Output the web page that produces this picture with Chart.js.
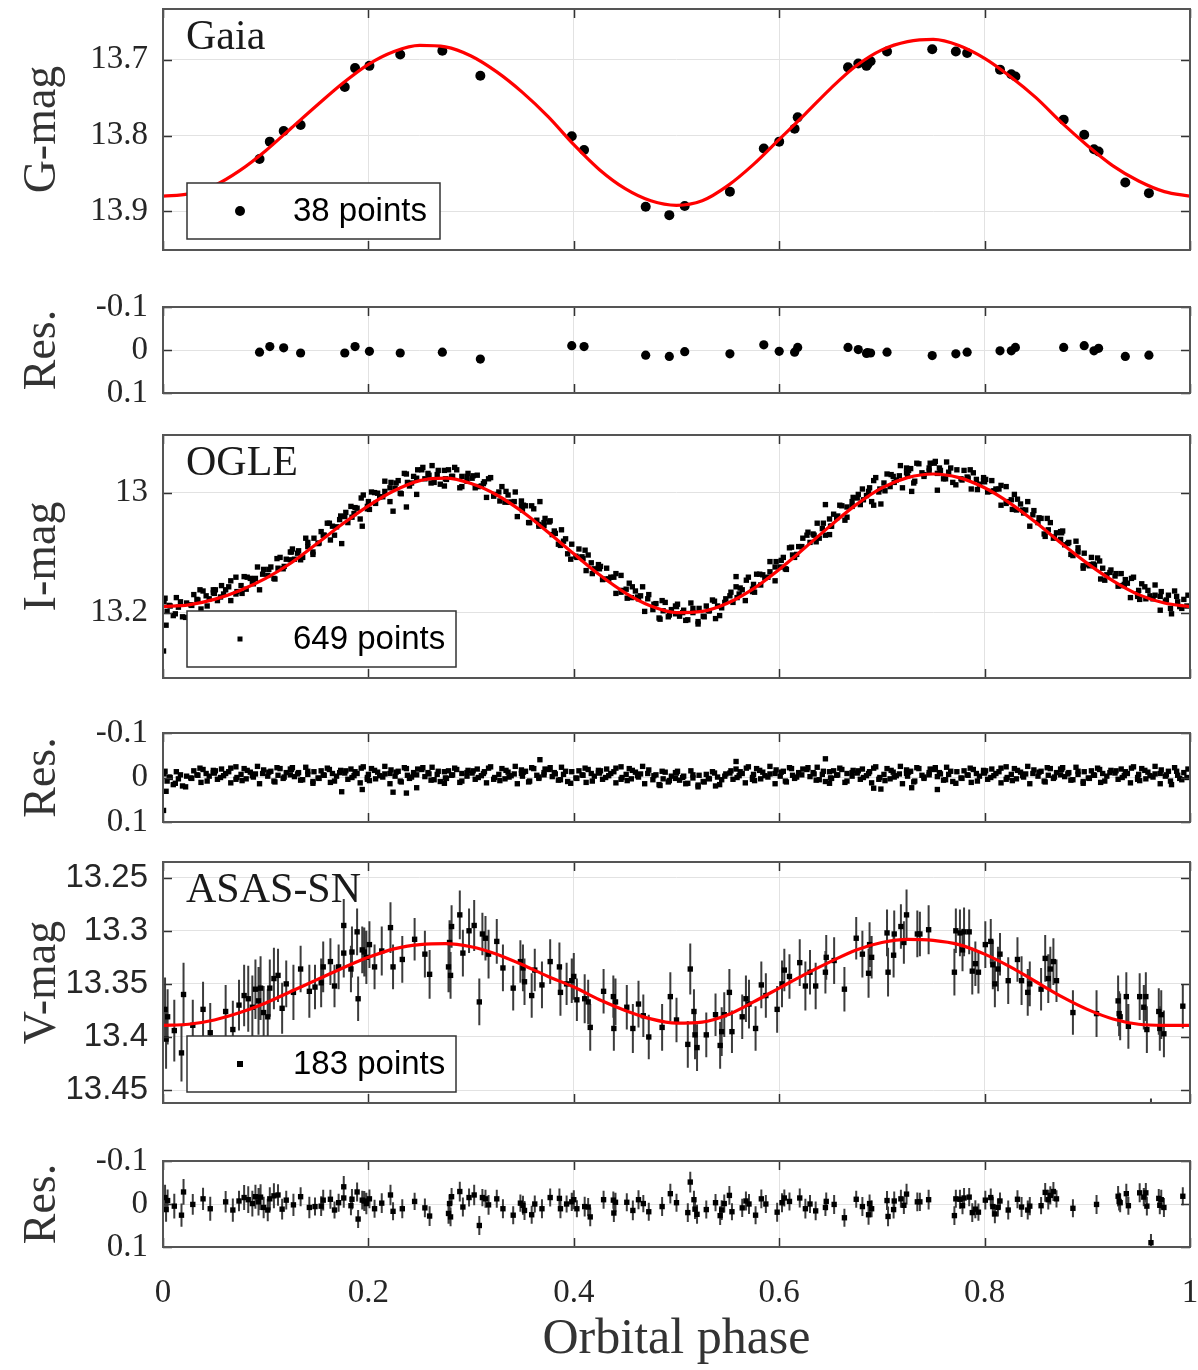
<!DOCTYPE html>
<html>
<head>
<meta charset="utf-8">
<title>Orbital phase light curves</title>
<script src="https://cdn.jsdelivr.net/npm/chart.js@4.4.1/dist/chart.umd.min.js"></script>
<style>
  body { margin: 0; background: #fff; }
  #wrap { position: relative; width: 1198px; height: 1370px; overflow: hidden; }
  #wrap canvas { position: absolute; left: 0; }
</style>
</head>
<body>
<div id="wrap"></div>
<script>
// ---- ticks ----
var phaseTicks = [0, 0.2, 0.4, 0.6, 0.8, 1];
var phaseTickLabels = ['0', '0.2', '0.4', '0.6', '0.8', '1'];
var gaiaTicks = [13.7, 13.8, 13.9];
var gaiaTickLabels = ['13.7', '13.8', '13.9'];
var ogleTicks = [13, 13.2];
var ogleTickLabels = ['13', '13.2'];
var asasTicks = [13.25, 13.3, 13.35, 13.4, 13.45];
var asasTickLabels = ['13.25', '13.3', '13.35', '13.4', '13.45'];
var resTicks = [-0.1, 0, 0.1];
var resTickLabels = ['-0.1', '0', '0.1'];

// ---- model curves ----
var curvePhase = [0, 0.025, 0.05, 0.075, 0.1, 0.125, 0.15, 0.175, 0.2, 0.225, 0.25, 0.275, 0.3, 0.325, 0.35, 0.375, 0.4, 0.425, 0.45, 0.475,
  0.5, 0.525, 0.55, 0.575, 0.6, 0.625, 0.65, 0.675, 0.7, 0.725, 0.75, 0.775, 0.8, 0.825, 0.85, 0.875, 0.9, 0.925, 0.95, 0.975, 1];
var gaiaCurve = [13.880, 13.877, 13.866, 13.846, 13.820, 13.790, 13.760, 13.731, 13.706, 13.689, 13.681, 13.683, 13.695, 13.716, 13.743, 13.775, 13.812, 13.845, 13.870, 13.886,
  13.892, 13.886, 13.866, 13.838, 13.805, 13.772, 13.738, 13.708, 13.687, 13.676, 13.673, 13.681, 13.698, 13.722, 13.750, 13.783, 13.813, 13.840, 13.860, 13.874, 13.880];
var ogleCurve = [13.190, 13.187, 13.178, 13.163, 13.143, 13.117, 13.085, 13.052, 13.022, 12.997, 12.980, 12.976, 12.985, 13.004, 13.032, 13.066, 13.102, 13.137, 13.167, 13.189,
  13.200, 13.198, 13.184, 13.160, 13.128, 13.092, 13.055, 13.020, 12.992, 12.975, 12.969, 12.975, 12.992, 13.018, 13.050, 13.085, 13.118, 13.147, 13.170, 13.184, 13.190];
var asasCurve = [13.389, 13.388, 13.384, 13.377, 13.368, 13.357, 13.346, 13.335, 13.325, 13.317, 13.313, 13.312, 13.315, 13.322, 13.332, 13.343, 13.353, 13.365, 13.375, 13.383,
  13.387, 13.386, 13.379, 13.367, 13.354, 13.341, 13.329, 13.318, 13.311, 13.308, 13.309, 13.313, 13.322, 13.334, 13.348, 13.362, 13.374, 13.383, 13.388, 13.389, 13.389];

// ---- Gaia ----
var gaiaPhase = [0.094, 0.104, 0.1175, 0.134, 0.177, 0.187, 0.201, 0.231, 0.272, 0.309, 0.398, 0.410, 0.470, 0.493, 0.508, 0.552, 0.585, 0.600, 0.615,
  0.618, 0.667, 0.677, 0.685, 0.686, 0.689, 0.705, 0.749, 0.772, 0.783, 0.815, 0.826, 0.830, 0.877, 0.897, 0.9065, 0.911, 0.937, 0.960];
var gaiaMag = [13.831, 13.808, 13.794, 13.786, 13.736, 13.711, 13.708, 13.693, 13.688, 13.721, 13.801, 13.819, 13.894, 13.905, 13.893, 13.874, 13.817, 13.808, 13.791,
  13.776, 13.710, 13.705, 13.708, 13.706, 13.702, 13.689, 13.686, 13.689, 13.691, 13.713, 13.719, 13.722, 13.779, 13.799, 13.818, 13.821, 13.862, 13.876];
var gaiaRes = [0.005, -0.008, -0.005, 0.007, 0.007, -0.008, 0.003, 0.007, 0.005, 0.021, -0.010, -0.008, 0.012, 0.015, 0.004, 0.009, -0.012, 0.003, 0.005,
  -0.006, -0.006, -0.001, 0.008, 0.006, 0.007, 0.005, 0.013, 0.009, 0.005, 0.002, 0.002, -0.006, -0.006, -0.010, 0.002, -0.004, 0.015, 0.012];

// ---- OGLE ----
var oglePhase = [
  0.001, 0.004, 0.006, 0.010, 0.013, 0.015, 0.019, 0.023, 0.027, 0.030, 0.033, 0.036, 0.037, 0.042, 0.045, 0.049,
  0.050, 0.053, 0.057, 0.059, 0.064, 0.066, 0.071, 0.072, 0.076, 0.079, 0.081, 0.085, 0.088, 0.090, 0.094, 0.098,
  0.102, 0.105, 0.108, 0.111, 0.112, 0.117, 0.120, 0.124, 0.125, 0.128, 0.132, 0.134, 0.139, 0.141, 0.146, 0.147,
  0.151, 0.154, 0.156, 0.160, 0.163, 0.165, 0.169, 0.173, 0.177, 0.180, 0.183, 0.186, 0.187, 0.192, 0.195, 0.199,
  0.200, 0.203, 0.207, 0.209, 0.214, 0.216, 0.221, 0.222, 0.226, 0.229, 0.231, 0.235, 0.238, 0.240, 0.244, 0.248,
  0.252, 0.255, 0.258, 0.261, 0.262, 0.267, 0.270, 0.274, 0.275, 0.278, 0.282, 0.284, 0.289, 0.291, 0.296, 0.297,
  0.301, 0.304, 0.306, 0.310, 0.313, 0.315, 0.319, 0.323, 0.327, 0.330, 0.333, 0.336, 0.337, 0.342, 0.345, 0.349,
  0.350, 0.353, 0.357, 0.359, 0.364, 0.366, 0.371, 0.372, 0.376, 0.379, 0.381, 0.385, 0.388, 0.390, 0.394, 0.398,
  0.402, 0.405, 0.408, 0.411, 0.412, 0.417, 0.420, 0.424, 0.425, 0.428, 0.432, 0.434, 0.439, 0.441, 0.446, 0.447,
  0.451, 0.454, 0.456, 0.460, 0.463, 0.465, 0.469, 0.473, 0.477, 0.480, 0.483, 0.486, 0.487, 0.492, 0.495, 0.499,
  0.500, 0.503, 0.507, 0.509, 0.514, 0.516, 0.521, 0.522, 0.526, 0.529, 0.531, 0.535, 0.538, 0.540, 0.544, 0.548,
  0.552, 0.555, 0.558, 0.561, 0.562, 0.567, 0.570, 0.574, 0.575, 0.578, 0.582, 0.584, 0.589, 0.591, 0.596, 0.597,
  0.601, 0.604, 0.606, 0.610, 0.613, 0.615, 0.619, 0.623, 0.627, 0.630, 0.633, 0.636, 0.637, 0.642, 0.645, 0.649,
  0.650, 0.653, 0.657, 0.659, 0.664, 0.666, 0.671, 0.672, 0.676, 0.679, 0.681, 0.685, 0.688, 0.690, 0.694, 0.698,
  0.702, 0.705, 0.708, 0.711, 0.712, 0.717, 0.720, 0.724, 0.725, 0.728, 0.732, 0.734, 0.739, 0.741, 0.746, 0.747,
  0.751, 0.754, 0.756, 0.760, 0.763, 0.765, 0.769, 0.773, 0.777, 0.780, 0.783, 0.786, 0.787, 0.792, 0.795, 0.799,
  0.800, 0.803, 0.807, 0.809, 0.814, 0.816, 0.821, 0.822, 0.826, 0.829, 0.831, 0.835, 0.838, 0.840, 0.844, 0.848,
  0.852, 0.855, 0.858, 0.861, 0.862, 0.867, 0.870, 0.874, 0.875, 0.878, 0.882, 0.884, 0.889, 0.891, 0.896, 0.897,
  0.901, 0.904, 0.906, 0.910, 0.913, 0.915, 0.919, 0.923, 0.927, 0.930, 0.933, 0.936, 0.937, 0.942, 0.945, 0.949,
  0.950, 0.953, 0.957, 0.959, 0.964, 0.966, 0.971, 0.972, 0.976, 0.979, 0.981, 0.985, 0.988, 0.990, 0.994, 0.998,
  0.0005, 0.003, 0.174, 0.194, 0.224, 0.237, 0.247, 0.367, 0.558, 0.645, 0.692, 0.699, 0.729, 0.754,
  0.002, 0.007, 0.012, 0.017, 0.022, 0.028, 0.034, 0.039, 0.043, 0.049, 0.051, 0.056, 0.061, 0.066, 0.071, 0.077, 0.082, 0.087, 0.092, 0.097,
  0.103, 0.109, 0.114, 0.118, 0.124, 0.126, 0.131, 0.136, 0.141, 0.146, 0.152, 0.157, 0.162, 0.167, 0.172, 0.178, 0.184, 0.189, 0.193, 0.199,
  0.201, 0.206, 0.211, 0.216, 0.221, 0.227, 0.232, 0.237, 0.242, 0.247, 0.253, 0.259, 0.264, 0.268, 0.274, 0.276, 0.281, 0.286, 0.291, 0.296,
  0.302, 0.307, 0.312, 0.317, 0.322, 0.328, 0.334, 0.339, 0.343, 0.349, 0.351, 0.356, 0.361, 0.366, 0.371, 0.377, 0.382, 0.387, 0.392, 0.397,
  0.403, 0.409, 0.414, 0.418, 0.424, 0.426, 0.431, 0.436, 0.441, 0.446, 0.452, 0.457, 0.462, 0.467, 0.472, 0.478, 0.484, 0.489, 0.493, 0.499,
  0.501, 0.506, 0.511, 0.516, 0.521, 0.527, 0.532, 0.537, 0.542, 0.547, 0.553, 0.559, 0.564, 0.568, 0.574, 0.576, 0.581, 0.586, 0.591, 0.596,
  0.602, 0.607, 0.612, 0.617, 0.622, 0.628, 0.634, 0.639, 0.643, 0.649, 0.651, 0.656, 0.661, 0.666, 0.671, 0.677, 0.682, 0.687, 0.692, 0.697,
  0.703, 0.709, 0.714, 0.718, 0.724, 0.726, 0.731, 0.736, 0.741, 0.746, 0.752, 0.757, 0.762, 0.767, 0.772, 0.778, 0.784, 0.789, 0.793, 0.799,
  0.801, 0.806, 0.811, 0.816, 0.821, 0.827, 0.832, 0.837, 0.842, 0.847, 0.853, 0.859, 0.864, 0.868, 0.874, 0.876, 0.881, 0.886, 0.891, 0.896,
  0.902, 0.907, 0.912, 0.917, 0.922, 0.928, 0.934, 0.939, 0.943, 0.949, 0.951, 0.956, 0.961, 0.966, 0.971, 0.977, 0.982, 0.987, 0.992, 0.997];
var ogleMag = [
  13.182, 13.198, 13.188, 13.205, 13.175, 13.191, 13.207, 13.184, 13.187, 13.170, 13.178, 13.162, 13.194, 13.172, 13.177, 13.162,
  13.168, 13.180, 13.155, 13.169, 13.157, 13.180, 13.141, 13.165, 13.155, 13.140, 13.161, 13.143, 13.152, 13.143, 13.162, 13.128,
  13.138, 13.124, 13.143, 13.110, 13.126, 13.127, 13.111, 13.099, 13.099, 13.111, 13.097, 13.112, 13.076, 13.090, 13.099, 13.076,
  13.085, 13.065, 13.071, 13.051, 13.079, 13.056, 13.057, 13.039, 13.040, 13.050, 13.023, 13.035, 13.025, 13.044, 13.004, 13.023,
  13.015, 12.999, 13.018, 13.001, 13.007, 12.998, 13.015, 12.983, 12.993, 12.980, 13.001, 12.968, 12.983, 12.989, 12.973, 12.962,
  12.962, 12.977, 12.968, 12.984, 12.955, 12.970, 12.986, 12.963, 12.977, 12.962, 12.973, 12.958, 12.992, 12.973, 12.981, 12.968,
  12.976, 12.992, 12.971, 12.989, 12.982, 13.008, 12.975, 13.003, 12.999, 12.990, 13.016, 13.004, 13.016, 13.015, 13.040, 13.014,
  13.029, 13.022, 13.050, 13.022, 13.046, 13.056, 13.050, 13.043, 13.049, 13.070, 13.064, 13.086, 13.062, 13.081, 13.102, 13.086,
  13.106, 13.094, 13.107, 13.096, 13.130, 13.117, 13.127, 13.120, 13.127, 13.145, 13.126, 13.144, 13.141, 13.168, 13.138, 13.163,
  13.161, 13.151, 13.175, 13.164, 13.177, 13.172, 13.198, 13.170, 13.195, 13.185, 13.209, 13.180, 13.197, 13.207, 13.195, 13.189,
  13.190, 13.206, 13.196, 13.213, 13.184, 13.200, 13.215, 13.193, 13.206, 13.189, 13.197, 13.179, 13.210, 13.189, 13.192, 13.177,
  13.172, 13.183, 13.157, 13.169, 13.159, 13.180, 13.141, 13.161, 13.153, 13.136, 13.154, 13.137, 13.141, 13.132, 13.147, 13.115,
  13.124, 13.108, 13.127, 13.092, 13.104, 13.108, 13.090, 13.076, 13.071, 13.083, 13.069, 13.082, 13.051, 13.060, 13.071, 13.044,
  13.056, 13.036, 13.039, 13.021, 13.046, 13.024, 13.023, 13.008, 13.009, 13.020, 12.994, 13.005, 12.992, 13.015, 12.975, 12.994,
  12.984, 12.969, 12.990, 12.973, 12.983, 12.972, 12.992, 12.959, 12.972, 12.960, 12.981, 12.951, 12.967, 12.973, 12.959, 12.951,
  12.951, 12.968, 12.959, 12.977, 12.949, 12.966, 12.983, 12.962, 12.977, 12.963, 12.974, 12.962, 12.994, 12.978, 12.986, 12.975,
  12.982, 12.999, 12.980, 12.997, 12.994, 13.021, 12.990, 13.015, 13.012, 13.003, 13.029, 13.019, 13.034, 13.029, 13.056, 13.030,
  13.050, 13.043, 13.069, 13.043, 13.062, 13.076, 13.067, 13.065, 13.067, 13.087, 13.083, 13.103, 13.081, 13.099, 13.122, 13.101,
  13.120, 13.108, 13.119, 13.109, 13.144, 13.126, 13.137, 13.129, 13.139, 13.156, 13.135, 13.153, 13.145, 13.175, 13.141, 13.169,
  13.163, 13.152, 13.177, 13.163, 13.177, 13.171, 13.196, 13.165, 13.181, 13.171, 13.193, 13.164, 13.182, 13.190, 13.178, 13.171,
  13.264, 13.221, 13.085, 13.056, 13.031, 13.024, 13.003, 13.015, 13.140, 13.020, 13.021, 13.019, 12.998, 12.996,
  13.176, 13.189, 13.202, 13.182, 13.208, 13.188, 13.179, 13.164, 13.189, 13.167, 13.162, 13.174, 13.162, 13.147, 13.169, 13.168, 13.141, 13.149, 13.124, 13.136,
  13.128, 13.144, 13.108, 13.123, 13.112, 13.094, 13.101, 13.108, 13.083, 13.103, 13.084, 13.071, 13.051, 13.071, 13.045, 13.033, 13.041, 13.026, 13.009, 13.027,
  13.028, 13.000, 13.007, 12.981, 12.992, 12.984, 13.002, 12.969, 12.984, 12.976, 12.958, 12.971, 12.983, 12.963, 12.989, 12.978, 12.973, 12.962, 12.990, 12.973,
  12.972, 12.990, 12.985, 12.977, 13.006, 13.014, 12.998, 13.016, 12.999, 13.022, 13.021, 13.050, 13.027, 13.053, 13.055, 13.047, 13.068, 13.088, 13.077, 13.111,
  13.108, 13.110, 13.104, 13.135, 13.125, 13.123, 13.144, 13.141, 13.135, 13.166, 13.176, 13.157, 13.174, 13.157, 13.177, 13.186, 13.211, 13.183, 13.204, 13.202,
  13.186, 13.200, 13.212, 13.193, 13.219, 13.207, 13.197, 13.181, 13.205, 13.183, 13.166, 13.175, 13.162, 13.146, 13.165, 13.166, 13.136, 13.142, 13.115, 13.124,
  13.113, 13.128, 13.091, 13.103, 13.090, 13.066, 13.071, 13.076, 13.051, 13.070, 13.056, 13.042, 13.022, 13.041, 13.015, 13.003, 13.012, 12.998, 12.980, 12.999,
  12.997, 12.970, 12.979, 12.955, 12.967, 12.963, 12.984, 12.952, 12.970, 12.964, 12.948, 12.963, 12.977, 12.959, 12.987, 12.979, 12.976, 12.967, 12.995, 12.980,
  12.978, 12.998, 12.994, 12.988, 13.018, 13.028, 13.011, 13.029, 13.015, 13.037, 13.042, 13.073, 13.050, 13.074, 13.078, 13.064, 13.085, 13.105, 13.092, 13.126,
  13.122, 13.121, 13.114, 13.146, 13.133, 13.135, 13.155, 13.151, 13.143, 13.173, 13.178, 13.157, 13.172, 13.154, 13.173, 13.179, 13.202, 13.173, 13.193, 13.189];
var ogleRes = [
  -0.008, 0.008, -0.001, 0.016, -0.013, 0.003, 0.019, -0.003, 0.001, -0.015, -0.006, -0.021, 0.011, -0.009, -0.003, -0.016,
  -0.010, 0.004, -0.019, -0.004, -0.013, 0.012, -0.024, 0.000, -0.007, -0.020, 0.003, -0.012, -0.001, -0.008, 0.014, -0.017,
  -0.003, -0.014, 0.008, -0.022, -0.005, 0.002, -0.011, -0.019, -0.018, -0.002, -0.011, 0.006, -0.023, -0.007, 0.009, -0.013,
  0.001, -0.015, -0.006, -0.021, 0.011, -0.009, -0.003, -0.016, -0.010, 0.004, -0.019, -0.004, -0.013, 0.012, -0.024, 0.000,
  -0.007, -0.020, 0.003, -0.012, -0.001, -0.008, 0.014, -0.017, -0.003, -0.014, 0.008, -0.022, -0.005, 0.002, -0.011, -0.019,
  -0.018, -0.002, -0.011, 0.006, -0.023, -0.007, 0.009, -0.013, 0.001, -0.015, -0.006, -0.021, 0.011, -0.009, -0.003, -0.016,
  -0.010, 0.004, -0.019, -0.004, -0.013, 0.012, -0.024, 0.000, -0.007, -0.020, 0.003, -0.012, -0.001, -0.008, 0.014, -0.017,
  -0.003, -0.014, 0.008, -0.022, -0.005, 0.002, -0.011, -0.019, -0.018, -0.002, -0.011, 0.006, -0.023, -0.007, 0.009, -0.013,
  0.001, -0.015, -0.006, -0.021, 0.011, -0.009, -0.003, -0.016, -0.010, 0.004, -0.019, -0.004, -0.013, 0.012, -0.024, 0.000,
  -0.007, -0.020, 0.003, -0.012, -0.001, -0.008, 0.014, -0.017, 0.005, -0.006, 0.016, -0.014, 0.003, 0.010, -0.003, -0.011,
  -0.010, 0.006, -0.003, 0.014, -0.015, 0.001, 0.017, -0.005, 0.009, -0.007, 0.002, -0.013, 0.019, -0.001, 0.005, -0.008,
  -0.010, 0.004, -0.019, -0.004, -0.013, 0.012, -0.024, 0.000, -0.007, -0.020, 0.003, -0.012, -0.001, -0.008, 0.014, -0.017,
  -0.003, -0.014, 0.008, -0.022, -0.005, 0.002, -0.011, -0.019, -0.018, -0.002, -0.011, 0.006, -0.023, -0.007, 0.009, -0.013,
  0.001, -0.015, -0.006, -0.021, 0.011, -0.009, -0.003, -0.016, -0.010, 0.004, -0.019, -0.004, -0.013, 0.012, -0.024, 0.000,
  -0.007, -0.020, 0.003, -0.012, -0.001, -0.008, 0.014, -0.017, -0.003, -0.014, 0.008, -0.022, -0.005, 0.002, -0.011, -0.019,
  -0.018, -0.002, -0.011, 0.006, -0.023, -0.007, 0.009, -0.013, 0.001, -0.015, -0.006, -0.021, 0.011, -0.009, -0.003, -0.016,
  -0.010, 0.004, -0.019, -0.004, -0.013, 0.012, -0.024, 0.000, -0.007, -0.020, 0.003, -0.012, -0.001, -0.008, 0.014, -0.017,
  -0.003, -0.014, 0.008, -0.022, -0.005, 0.002, -0.011, -0.019, -0.018, -0.002, -0.011, 0.006, -0.023, -0.007, 0.009, -0.013,
  0.001, -0.015, -0.006, -0.021, 0.011, -0.009, -0.003, -0.016, -0.010, 0.004, -0.019, -0.004, -0.013, 0.012, -0.024, 0.000,
  -0.007, -0.020, 0.003, -0.012, -0.001, -0.008, 0.014, -0.017, -0.003, -0.014, 0.008, -0.022, -0.005, 0.002, -0.011, -0.019,
  0.074, 0.031, 0.032, 0.027, 0.033, 0.035, 0.023, -0.040, -0.036, -0.042, 0.024, 0.026, 0.023, 0.027,
  -0.014, 0.000, 0.013, -0.006, 0.021, 0.002, -0.005, -0.018, 0.008, -0.011, -0.015, 0.000, -0.009, -0.021, 0.004, 0.007, -0.016, -0.004, -0.025, -0.009,
  -0.012, 0.010, -0.020, -0.001, -0.006, -0.022, -0.008, 0.005, -0.014, 0.013, 0.002, -0.005, -0.018, 0.008, -0.011, -0.015, 0.000, -0.009, -0.021, 0.004,
  0.007, -0.016, -0.004, -0.025, -0.009, -0.012, 0.010, -0.020, -0.001, -0.006, -0.022, -0.008, 0.005, -0.014, 0.013, 0.002, -0.005, -0.018, 0.008, -0.011,
  -0.015, 0.000, -0.009, -0.021, 0.004, 0.007, -0.016, -0.004, -0.025, -0.009, -0.012, 0.010, -0.020, -0.001, -0.006, -0.022, -0.008, 0.005, -0.014, 0.013,
  0.002, -0.005, -0.018, 0.008, -0.011, -0.015, 0.000, -0.009, -0.021, 0.004, 0.007, -0.016, -0.004, -0.025, -0.009, -0.004, 0.018, -0.012, 0.007, 0.002,
  -0.014, 0.000, 0.013, -0.006, 0.021, 0.010, 0.003, -0.010, 0.016, -0.003, -0.015, 0.000, -0.009, -0.021, 0.004, 0.007, -0.016, -0.004, -0.025, -0.009,
  -0.012, 0.010, -0.020, -0.001, -0.006, -0.022, -0.008, 0.005, -0.014, 0.013, 0.002, -0.005, -0.018, 0.008, -0.011, -0.015, 0.000, -0.009, -0.021, 0.004,
  0.007, -0.016, -0.004, -0.025, -0.009, -0.012, 0.010, -0.020, -0.001, -0.006, -0.022, -0.008, 0.005, -0.014, 0.013, 0.002, -0.005, -0.018, 0.008, -0.011,
  -0.015, 0.000, -0.009, -0.021, 0.004, 0.007, -0.016, -0.004, -0.025, -0.009, -0.012, 0.010, -0.020, -0.001, -0.006, -0.022, -0.008, 0.005, -0.014, 0.013,
  0.002, -0.005, -0.018, 0.008, -0.011, -0.015, 0.000, -0.009, -0.021, 0.004, 0.007, -0.016, -0.004, -0.025, -0.009, -0.006, 0.016, -0.014, 0.005, 0.000];

// ---- ASAS-SN ----
var asasPhase = [
  0.002, 0.003, 0.0045, 0.011, 0.018, 0.020, 0.029, 0.039, 0.046, 0.061, 0.068, 0.079, 0.083, 0.087, 0.090, 0.093, 0.095, 0.102, 0.104, 0.108,
  0.112, 0.116, 0.127, 0.134, 0.1425, 0.154, 0.156, 0.163, 0.171, 0.176, 0.176, 0.183, 0.184, 0.189, 0.190, 0.196, 0.198, 0.201, 0.2215, 0.224,
  0.233, 0.245, 0.2596, 0.278, 0.279, 0.280, 0.281, 0.289, 0.292, 0.298, 0.303, 0.308, 0.311, 0.314, 0.317, 0.331, 0.341, 0.348, 0.3505, 0.359,
  0.362, 0.369, 0.377, 0.386, 0.387, 0.393, 0.398, 0.400, 0.403, 0.4106, 0.414, 0.416, 0.439, 0.4385, 0.4406, 0.4516, 0.4575, 0.463, 0.4677, 0.473,
  0.486, 0.494, 0.500, 0.511, 0.5134, 0.517, 0.518, 0.520, 0.529, 0.538, 0.5425, 0.544, 0.5465, 0.5515, 0.554, 0.564, 0.5676, 0.5706, 0.577, 0.5826,
  0.587, 0.6027, 0.605, 0.610, 0.620, 0.6255, 0.630, 0.6355, 0.645, 0.6458, 0.6535, 0.6635, 0.675, 0.681, 0.687, 0.688, 0.690, 0.705, 0.706, 0.7114,
  0.712, 0.7185, 0.7214, 0.724, 0.7345, 0.737, 0.7455, 0.7706, 0.772, 0.776, 0.7785, 0.780, 0.785, 0.788, 0.791, 0.794, 0.8007, 0.806, 0.808, 0.810,
  0.813, 0.815, 0.823, 0.832, 0.836, 0.842, 0.844, 0.855, 0.859, 0.862, 0.864, 0.867, 0.870, 0.886, 0.909, 0.930, 0.931, 0.932, 0.938, 0.940,
  0.951, 0.955, 0.957, 0.958, 0.962, 0.9696, 0.9706, 0.972, 0.9746, 0.993,
  0.074, 0.098, 0.120, 0.148, 0.167, 0.194, 0.206, 0.213, 0.255, 0.325, 0.352, 0.429, 0.598];
var asasMag = [
  13.374, 13.402, 13.381, 13.394, 13.415, 13.360, 13.389, 13.374, 13.396, 13.376, 13.393, 13.361, 13.364, 13.372, 13.355, 13.366, 13.354, 13.381, 13.354, 13.345,
  13.342, 13.373, 13.358, 13.336, 13.357, 13.349, 13.334, 13.329, 13.334, 13.295, 13.321, 13.336, 13.320, 13.301, 13.364, 13.320, 13.325, 13.313, 13.297, 13.334,
  13.327, 13.308, 13.341, 13.334, 13.311, 13.342, 13.296, 13.285, 13.321, 13.300, 13.295, 13.367, 13.303, 13.307, 13.322, 13.335, 13.354, 13.329, 13.335, 13.361,
  13.337, 13.351, 13.329, 13.334, 13.358, 13.350, 13.347, 13.343, 13.365, 13.364, 13.367, 13.391, 13.392, 13.362, 13.367, 13.372, 13.392, 13.369, 13.380, 13.400,
  13.391, 13.362, 13.384, 13.407, 13.336, 13.376, 13.398, 13.410, 13.398, 13.379, 13.408, 13.395, 13.379, 13.358, 13.395, 13.381, 13.364, 13.369, 13.392, 13.351,
  13.361, 13.350, 13.337, 13.343, 13.330, 13.352, 13.339, 13.352, 13.339, 13.325, 13.328, 13.355, 13.307, 13.322, 13.340, 13.313, 13.325, 13.302, 13.339, 13.323,
  13.303, 13.296, 13.311, 13.285, 13.303, 13.303, 13.299, 13.339, 13.300, 13.302, 13.318, 13.301, 13.301, 13.338, 13.331, 13.339, 13.313, 13.310, 13.332, 13.350,
  13.336, 13.322, 13.347, 13.327, 13.347, 13.358, 13.350, 13.355, 13.326, 13.345, 13.336, 13.329, 13.347, 13.377, 13.378, 13.366, 13.378, 13.381, 13.362, 13.390,
  13.362, 13.372, 13.362, 13.393, 13.478, 13.376, 13.392, 13.379, 13.397, 13.371,
  13.370, 13.377, 13.350, 13.353, 13.352, 13.318, 13.334, 13.319, 13.322, 13.310, 13.348, 13.357, 13.374];
var asasRes = [
  -0.015, 0.013, -0.008, 0.005, 0.026, -0.028, 0.001, -0.012, 0.011, -0.005, 0.014, -0.015, -0.010, -0.001, -0.017, -0.005, -0.016, 0.014, -0.012, -0.019,
  -0.021, 0.012, 0.002, -0.017, 0.008, 0.005, -0.009, -0.011, -0.003, -0.040, -0.014, 0.004, -0.011, -0.028, 0.035, -0.007, -0.001, -0.012, -0.021, 0.017,
  0.011, -0.006, 0.028, 0.022, -0.001, 0.030, -0.017, -0.029, 0.007, -0.015, -0.021, 0.050, -0.015, -0.012, 0.002, 0.011, 0.026, -0.002, 0.003, 0.025,
  0.000, 0.011, -0.015, -0.013, 0.011, 0.000, -0.005, -0.010, 0.011, 0.006, 0.007, 0.030, 0.021, -0.009, -0.004, -0.004, 0.015, -0.010, -0.001, 0.018,
  0.006, -0.024, -0.003, 0.020, -0.051, -0.010, 0.012, 0.024, 0.013, -0.003, 0.027, 0.014, -0.001, -0.020, 0.018, 0.009, -0.007, 0.000, 0.026, -0.012,
  0.000, -0.003, -0.014, -0.006, -0.014, 0.011, 0.000, 0.016, 0.008, -0.006, 0.001, 0.032, -0.011, 0.006, 0.025, -0.001, 0.011, -0.008, 0.029, 0.013,
  -0.007, -0.012, 0.003, -0.023, -0.005, -0.005, -0.010, 0.027, -0.012, -0.011, 0.004, -0.014, -0.016, 0.020, 0.012, 0.019, -0.009, -0.015, 0.006, 0.023,
  0.008, -0.007, 0.014, -0.011, 0.007, 0.014, 0.005, 0.004, -0.027, -0.010, -0.020, -0.029, -0.012, 0.010, 0.001, -0.018, -0.006, -0.003, -0.024, 0.004,
  -0.026, -0.016, -0.026, 0.005, 0.090, -0.013, 0.003, -0.010, 0.008, -0.018,
  -0.007, 0.008, -0.009, 0.006, 0.014, -0.009, 0.011, -0.002, 0.009, -0.012, 0.015, -0.010, 0.019];
var asasErr = [
  0.030, 0.028, 0.026, 0.029, 0.027, 0.030, 0.024, 0.026, 0.028, 0.025, 0.027, 0.029, 0.031, 0.030, 0.028, 0.032, 0.030, 0.026, 0.027, 0.029,
  0.025, 0.024, 0.026, 0.022, 0.025, 0.023, 0.024, 0.022, 0.021, 0.025, 0.023, 0.022, 0.024, 0.022, 0.021, 0.023, 0.025, 0.022, 0.024, 0.021,
  0.022, 0.020, 0.023, 0.024, 0.021, 0.022, 0.020, 0.023, 0.022, 0.021, 0.024, 0.022, 0.020, 0.021, 0.023, 0.022, 0.021, 0.020, 0.022, 0.021,
  0.020, 0.022, 0.021, 0.023, 0.022, 0.020, 0.021, 0.022, 0.020, 0.023, 0.021, 0.022, 0.021, 0.020, 0.022, 0.021, 0.023, 0.022, 0.020, 0.021,
  0.022, 0.023, 0.021, 0.022, 0.024, 0.021, 0.023, 0.022, 0.021, 0.020, 0.022, 0.023, 0.021, 0.022, 0.020, 0.021, 0.022, 0.023, 0.021, 0.022,
  0.021, 0.022, 0.020, 0.021, 0.022, 0.023, 0.021, 0.022, 0.020, 0.021, 0.022, 0.021, 0.020, 0.022, 0.023, 0.021, 0.020, 0.022, 0.023, 0.021,
  0.022, 0.021, 0.020, 0.024, 0.022, 0.021, 0.023, 0.022, 0.021, 0.022, 0.020, 0.023, 0.021, 0.022, 0.021, 0.020, 0.022, 0.021, 0.023, 0.022,
  0.021, 0.020, 0.022, 0.021, 0.023, 0.022, 0.021, 0.020, 0.022, 0.023, 0.021, 0.022, 0.020, 0.021, 0.022, 0.024, 0.021, 0.022, 0.023, 0.021,
  0.022, 0.021, 0.023, 0.022, 0.020, 0.022, 0.021, 0.023, 0.022, 0.021,
  0.024, 0.025, 0.022, 0.021, 0.020, 0.022, 0.021, 0.023, 0.022, 0.021, 0.022, 0.021, 0.022];

// ---- look ----
var serif = '"Liberation Serif", "Times New Roman", serif';
var sans = '"Liberation Sans", Arial, sans-serif';
var inkColor = '#262626';
var gridColor = '#e2e2e2';
var boxColor = '#555555';
var fitRed = '#ff0000';

function toPoints(xs, ys) {
    return xs.map(function (x, i) { return { x: x, y: ys[i] }; });
}

// vertical error bars as broken line segments
function toErrorBars(xs, ys, es) {
    var out = [];
    xs.forEach(function (x, i) {
        out.push({ x: x, y: ys[i] - es[i] }, { x: x, y: ys[i] + es[i] }, { x: x, y: null });
    });
    return out;
}

function curveDataset(ys) {
    return {
        data: toPoints(curvePhase, ys),
        showLine: true,
        borderColor: fitRed,
        borderWidth: 3.2,
        pointRadius: 0,
        cubicInterpolationMode: 'monotone',
        clip: 0
    };
}

function pointDataset(xs, ys, style, radius) {
    return {
        data: toPoints(xs, ys),
        showLine: false,
        pointStyle: style,
        pointRadius: radius,
        pointBorderWidth: 0,
        pointBackgroundColor: '#000',
        clip: 0
    };
}

function errorDataset(xs, ys, es) {
    return {
        data: toErrorBars(xs, ys, es),
        showLine: true,
        spanGaps: false,
        borderColor: '#3c3c3c',
        borderWidth: 2,
        pointRadius: 0,
        clip: 0
    };
}

// box, inner tick marks, panel name and the little legend box
var decoPlugin = {
    id: 'deco',
    afterDatasetsDraw: function (chart, args, opts) {
        var ctx = chart.ctx;
        var a = chart.chartArea;
        var xs = chart.scales.x;
        var ys = chart.scales.y;
        ctx.save();

        ctx.strokeStyle = '#333';
        ctx.lineWidth = 1.5;
        ctx.beginPath();
        phaseTicks.forEach(function (v) {
            var px = Math.round(xs.getPixelForValue(v)) + 0.5;
            ctx.moveTo(px, a.bottom); ctx.lineTo(px, a.bottom - 9);
            ctx.moveTo(px, a.top); ctx.lineTo(px, a.top + 9);
        });
        opts.yTicks.forEach(function (v) {
            var py = Math.round(ys.getPixelForValue(v)) + 0.5;
            ctx.moveTo(a.left, py); ctx.lineTo(a.left + 9, py);
            ctx.moveTo(a.right, py); ctx.lineTo(a.right - 9, py);
        });
        ctx.stroke();

        ctx.strokeStyle = boxColor;
        ctx.lineWidth = 2;
        ctx.strokeRect(a.left, a.top, a.right - a.left, a.bottom - a.top);

        if (opts.label) {
            ctx.fillStyle = '#1a1a1a';
            ctx.font = '42px ' + serif;
            ctx.textBaseline = 'alphabetic';
            ctx.textAlign = 'left';
            ctx.fillText(opts.label, a.left + 23, a.top + 40);
        }

        if (opts.legend) {
            var lg = opts.legend;
            var bx = a.left + 24, bh = 56, by = a.bottom - 11 - bh;
            ctx.fillStyle = '#fff';
            ctx.fillRect(bx, by, lg.width, bh);
            ctx.strokeStyle = '#333';
            ctx.lineWidth = 1.5;
            ctx.strokeRect(bx, by, lg.width, bh);
            ctx.fillStyle = '#000';
            var mx = bx + 53, my = by + bh / 2;
            if (lg.marker === 'circle') {
                ctx.beginPath();
                ctx.arc(mx, my, 5, 0, Math.PI * 2);
                ctx.fill();
            } else {
                ctx.fillRect(mx - lg.size / 2, my - lg.size / 2, lg.size, lg.size);
            }
            ctx.font = '33px ' + sans;
            ctx.textBaseline = 'middle';
            ctx.fillText(lg.text, bx + 106, my + 1);
        }
        ctx.restore();
    }
};

var wrap = document.getElementById('wrap');

function makePanel(p) {
    var padTop = Math.min(30, p.top);
    var xh = p.bottomAxis ? 1370 - p.bottom : 30;
    var canvas = document.createElement('canvas');
    canvas.width = 1198;
    canvas.height = padTop + (p.bottom - p.top) + xh;
    canvas.style.top = (p.top - padTop) + 'px';
    wrap.appendChild(canvas);

    new Chart(canvas, {
        type: 'scatter',
        data: { datasets: p.datasets },
        options: {
            responsive: false,
            animation: false,
            devicePixelRatio: 1,
            events: [],
            layout: { padding: { top: padTop, right: 8, left: 0, bottom: 0 } },
            plugins: {
                legend: { display: false },
                tooltip: { enabled: false },
                deco: { yTicks: p.yTicks, label: p.label, legend: p.legend }
            },
            scales: {
                x: {
                    type: 'linear',
                    min: 0,
                    max: 1,
                    afterBuildTicks: function (s) { s.ticks = phaseTicks.map(function (v) { return { value: v }; }); },
                    afterFit: function (s) { s.height = xh; s.paddingLeft = 0; s.paddingRight = 0; },
                    grid: { color: gridColor, lineWidth: 1, drawTicks: false },
                    border: { display: false },
                    ticks: {
                        display: !!p.bottomAxis,
                        autoSkip: false,
                        maxRotation: 0,
                        padding: 27,
                        color: inkColor,
                        font: { family: serif, size: 33 },
                        callback: function (v, i) { return phaseTickLabels[i]; }
                    },
                    title: {
                        display: !!p.bottomAxis,
                        text: 'Orbital phase',
                        color: '#333',
                        font: { family: serif, size: 50 },
                        padding: { top: 0, bottom: 0 }
                    }
                },
                y: {
                    type: 'linear',
                    reverse: true,
                    min: p.yMin,
                    max: p.yMax,
                    afterBuildTicks: function (s) { s.ticks = p.yTicks.map(function (v) { return { value: v }; }); },
                    afterFit: function (s) { s.width = 163; s.paddingTop = 0; s.paddingBottom = 0; },
                    grid: { color: gridColor, lineWidth: 1, drawTicks: false },
                    border: { display: false },
                    ticks: {
                        autoSkip: false,
                        padding: 15,
                        color: inkColor,
                        font: { family: p.tickFamily || serif, size: 33 },
                        callback: function (v, i) { return p.yTickLabels[i]; }
                    },
                    title: {
                        display: true,
                        text: p.yTitle,
                        color: '#333',
                        font: { family: serif, size: 46 },
                        padding: { top: 15, bottom: 0 }
                    }
                }
            }
        },
        plugins: [decoPlugin]
    });
}

// Gaia
makePanel({
    top: 9, bottom: 250, yMin: 13.633, yMax: 13.951,
    yTicks: gaiaTicks, yTickLabels: gaiaTickLabels, yTitle: 'G-mag', label: 'Gaia',
    legend: { text: '38 points', width: 253, marker: 'circle' },
    datasets: [curveDataset(gaiaCurve), pointDataset(gaiaPhase, gaiaMag, 'circle', 5)]
});
makePanel({
    top: 307, bottom: 393, yMin: -0.1, yMax: 0.1,
    yTicks: resTicks, yTickLabels: resTickLabels, yTitle: 'Res.',
    datasets: [pointDataset(gaiaPhase, gaiaRes, 'circle', 4.6)]
});

// OGLE
makePanel({
    top: 435, bottom: 678, yMin: 12.904, yMax: 13.309,
    yTicks: ogleTicks, yTickLabels: ogleTickLabels, yTitle: 'I-mag', label: 'OGLE',
    legend: { text: '649 points', width: 269, marker: 'rect', size: 5 },
    datasets: [curveDataset(ogleCurve), pointDataset(oglePhase, ogleMag, 'rect', 3.8)]
});
makePanel({
    top: 733, bottom: 822, yMin: -0.1, yMax: 0.1,
    yTicks: resTicks, yTickLabels: resTickLabels, yTitle: 'Res.',
    datasets: [pointDataset(oglePhase, ogleRes, 'rect', 3.8)]
});

// ASAS-SN
makePanel({
    top: 862, bottom: 1103, yMin: 13.2352, yMax: 13.4622,
    yTicks: asasTicks, yTickLabels: asasTickLabels, yTitle: 'V-mag', label: 'ASAS-SN', tickFamily: sans,
    legend: { text: '183 points', width: 269, marker: 'rect', size: 6 },
    datasets: [curveDataset(asasCurve), pointDataset(asasPhase, asasMag, 'rect', 3.8), errorDataset(asasPhase, asasMag, asasErr)]
});
makePanel({
    top: 1161, bottom: 1247, yMin: -0.1, yMax: 0.1,
    yTicks: resTicks, yTickLabels: resTickLabels, yTitle: 'Res.', bottomAxis: true,
    datasets: [pointDataset(asasPhase, asasRes, 'rect', 3.8), errorDataset(asasPhase, asasRes, asasErr)]
});
</script>
</body>
</html>
